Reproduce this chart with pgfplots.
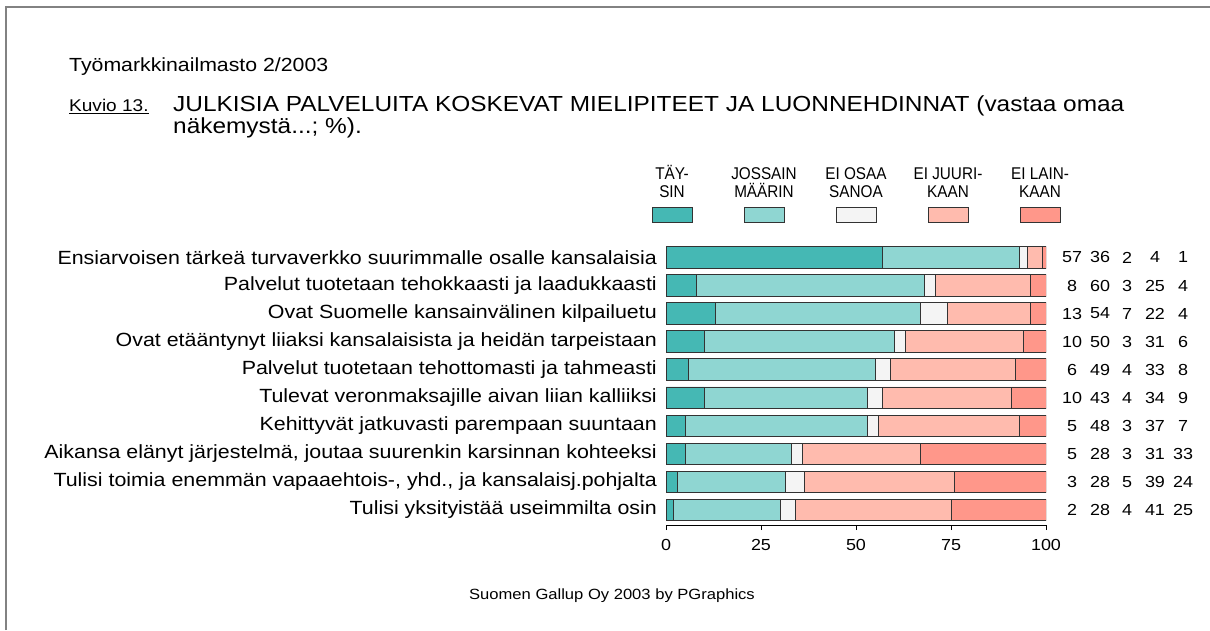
\documentclass[border=0pt]{standalone}
\usepackage{fontspec}
\setmainfont[FakeStretch=1.12]{Liberation Sans}
\newfontfamily\legfont[FakeStretch=0.9]{Liberation Sans}
\usepackage{pgfplots}
\usepackage{pgfplotstable}
\pgfplotsset{compat=1.18}
\definecolor{cA}{RGB}{69,184,180}
\definecolor{cB}{RGB}{143,214,210}
\definecolor{cC}{RGB}{244,244,244}
\definecolor{cD}{RGB}{255,187,174}
\definecolor{cE}{RGB}{255,151,138}
\definecolor{frame}{RGB}{130,130,130}

\pgfplotstableread{
y a b c d e
10 57 36 2 4 1
9 8 60 3 25 4
8 13 54 7 22 4
7 10 50 3 31 6
6 6 49 4 33 8
5 10 43 4 34 9
4 5 48 3 37 7
3 5 28 3 31 33
2 3 28.4 5.1 39.3 24.2
1 2 28 4 41 25
}\bars

\pgfplotstableread{
y a b c d e
10 57 36 2 4 1
9 8 60 3 25 4
8 13 54 7 22 4
7 10 50 3 31 6
6 6 49 4 33 8
5 10 43 4 34 9
4 5 48 3 37 7
3 5 28 3 31 33
2 3 28 5 39 24
1 2 28 4 41 25
}\nums

\newcommand{\legimg}[2]{%
  \draw[fill=#1, draw=black!80, line width=0.9pt] (26pt,-7.5pt) rectangle (66pt,7.5pt);
  \node[anchor=south, align=center, inner sep=0pt, fill=none, draw=none, text=black,
        font=\legfont\fontsize{17}{18.5}\selectfont] at (46pt,15.5pt) {#2};
  \path[draw=none, fill=none] (0pt,0pt) -- (91pt,0pt);
}

\begin{document}
\begin{tikzpicture}
\path[use as bounding box] (0pt,0pt) rectangle (1210pt,-630pt);
\draw[frame, line width=1.8pt] (6pt,-630pt) -- (6pt,-7pt) -- (1210pt,-7pt);

\node[anchor=base west, inner sep=0pt, font=\fontsize{19}{22}\selectfont] at (69pt,-71.5pt) {Työmarkkinailmasto 2/2003};
\node[anchor=base west, inner sep=0pt, font=\fontsize{17}{20}\selectfont] at (69pt,-111.5pt) {\underline{Kuvio 13.}};
\node[anchor=base west, inner sep=0pt, font=\fontsize{21.8}{24}\selectfont] at (173pt,-111.5pt) {JULKISIA PALVELUITA KOSKEVAT MIELIPITEET JA LUONNEHDINNAT (vastaa omaa};
\node[anchor=base west, inner sep=0pt, font=\fontsize{21.8}{24}\selectfont] at (173pt,-133pt) {näkemystä...; \%).};
\node[anchor=base, inner sep=0pt, font=\fontsize{14.8}{17}\selectfont] at (612pt,-599pt) {Suomen Gallup Oy 2003 by PGraphics};

\begin{axis}[
  at={(666pt,-525pt)}, anchor=south west,
  scale only axis, width=380pt, height=281.6pt,
  xmin=0, xmax=100, ymin=0.465, ymax=10.5,
  xbar stacked, bar width=21.5pt,
  axis x line*=bottom, axis y line*=left,
  y axis line style={draw=none}, ytick style={draw=none},
  x axis line style={black, line width=1pt},
  xtick style={black, line width=1pt},
  xtick={0,25,50,75,100}, xtick align=outside, major tick length=5pt,
  /pgf/number format/assume math mode=true,
  xticklabel style={font=\fontsize{16}{19}\selectfont, inner sep=0pt, yshift=-9pt},
  ytick={1,...,10},
  yticklabels={
    Tulisi yksityistää useimmilta osin,
    {Tulisi toimia enemmän vapaaehtois-, yhd., ja kansalaisj.pohjalta},
    {Aikansa elänyt järjestelmä, joutaa suurenkin karsinnan kohteeksi},
    Kehittyvät jatkuvasti parempaan suuntaan,
    Tulevat veronmaksajille aivan liian kalliiksi,
    Palvelut tuotetaan tehottomasti ja tahmeasti,
    Ovat etääntynyt liiaksi kansalaisista ja heidän tarpeistaan,
    Ovat Suomelle kansainvälinen kilpailuetu,
    Palvelut tuotetaan tehokkaasti ja laadukkaasti,
    Ensiarvoisen tärkeä turvaverkko suurimmalle osalle kansalaisia},
  yticklabel style={font=\fontsize{19.1}{22}\selectfont, anchor=east, inner sep=0pt, xshift=-9pt},
  legend columns=5,
  legend style={at={(-0.10526,1.0728)}, anchor=south west, draw=none, fill=none,
    inner sep=0pt, outer sep=0pt, column sep=0pt, row sep=0pt,
    nodes={inner sep=0pt, outer sep=0pt}},
]
\addplot[fill=cA, draw=black!80, line width=0.9pt, legend image code/.code={\legimg{cA}{TÄY-\\SIN}}] table[x=a, y=y] {\bars};
\addlegendentry{}
\addplot[fill=cB, draw=black!80, line width=0.9pt, legend image code/.code={\legimg{cB}{JOSSAIN\\MÄÄRIN}}] table[x=b, y=y] {\bars};
\addlegendentry{}
\addplot[fill=cC, draw=black!80, line width=0.9pt, legend image code/.code={\legimg{cC}{EI OSAA\\SANOA}}] table[x=c, y=y] {\bars};
\addlegendentry{}
\addplot[fill=cD, draw=black!80, line width=0.9pt, legend image code/.code={\legimg{cD}{EI JUURI-\\KAAN}}] table[x=d, y=y] {\bars};
\addlegendentry{}
\addplot[fill=cE, draw=black!80, line width=0.9pt, legend image code/.code={\legimg{cE}{EI LAIN-\\KAAN}}] table[x=e, y=y] {\bars};
\addlegendentry{}
\end{axis}

\begin{axis}[
  at={(666pt,-525pt)}, anchor=south west,
  scale only axis, width=380pt, height=281.6pt,
  xmin=0, xmax=100, ymin=0.465, ymax=10.5,
  hide axis, clip=false,
  nodes near coords, point meta=explicit symbolic,
  nodes near coords align={center},
  every node near coord/.append style={font=\fontsize{16}{19}\selectfont, inner sep=0pt, text=black},
]
\addplot[draw=none, mark=none] table[x expr=106.84, y=y, meta=a] {\nums};
\addplot[draw=none, mark=none] table[x expr=114.21, y=y, meta=b] {\nums};
\addplot[draw=none, mark=none] table[x expr=121.32, y=y, meta=c] {\nums};
\addplot[draw=none, mark=none] table[x expr=128.68, y=y, meta=d] {\nums};
\addplot[draw=none, mark=none] table[x expr=136.05, y=y, meta=e] {\nums};
\end{axis}
\end{tikzpicture}
\end{document}
